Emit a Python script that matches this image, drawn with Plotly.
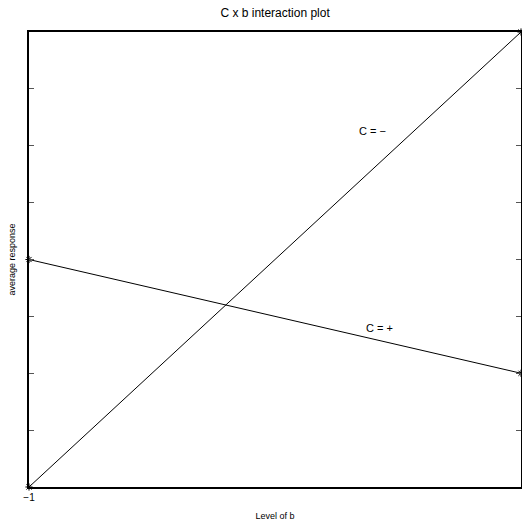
import plotly.graph_objects as go

levels_b = [-1, 1]
c_minus = [0, 8]
c_plus = [4, 2]
y_ticks = [0, 1, 2, 3, 4, 5, 6, 7, 8]
x_tick_labels = ["\u22121", "1"]

font = "Liberation Sans, Arial, sans-serif"

fig = go.Figure()
for ys in (c_minus, c_plus):
    fig.add_trace(go.Scatter(
        x=levels_b, y=ys, mode="lines+markers",
        line=dict(color="black", width=1),
        marker=dict(symbol="asterisk-open", size=6, color="black", line=dict(width=1, color="black")),
        showlegend=False, cliponaxis=False))

fig.add_annotation(x=0.398, y=6.26, text="C = \u2212", showarrow=False,
                   font=dict(family=font, size=11, color="black"))
fig.add_annotation(x=0.423, y=2.80, text="C = +", showarrow=False,
                   font=dict(family=font, size=11, color="black"))

fig.update_layout(
    width=522, height=522,
    margin=dict(l=29, r=1, t=32, b=35, autoexpand=False),
    paper_bgcolor="white", plot_bgcolor="white",
    title=dict(text="C x b interaction plot", x=0.527, xanchor="center", y=0.975, yanchor="middle",
               font=dict(family=font, size=12, color="black")),
    font=dict(family=font, color="black"),
)
fig.update_xaxes(range=[-1, 1], tickvals=levels_b, ticktext=x_tick_labels, automargin=False,
                 showgrid=False, zeroline=False, showline=True, linecolor="black", linewidth=1.5,
                 mirror=True, ticks="", tickfont=dict(size=10, color="black"),
                 title=dict(text="Level of b", font=dict(size=9, color="black"), standoff=11))
fig.update_yaxes(range=[0, 8], tickvals=y_ticks, showticklabels=False, automargin=False,
                 showgrid=False, zeroline=False, showline=True, linecolor="black", linewidth=1.5,
                 mirror="ticks", ticks="inside", ticklen=5, tickcolor="#555", tickwidth=1,
                 title=dict(text="average response", font=dict(size=9, color="black"), standoff=10))

fig.write_html("out.html", config={"displayModeBar": False},
               post_script="document.body.style.margin='0';document.body.style.overflow='hidden';")
